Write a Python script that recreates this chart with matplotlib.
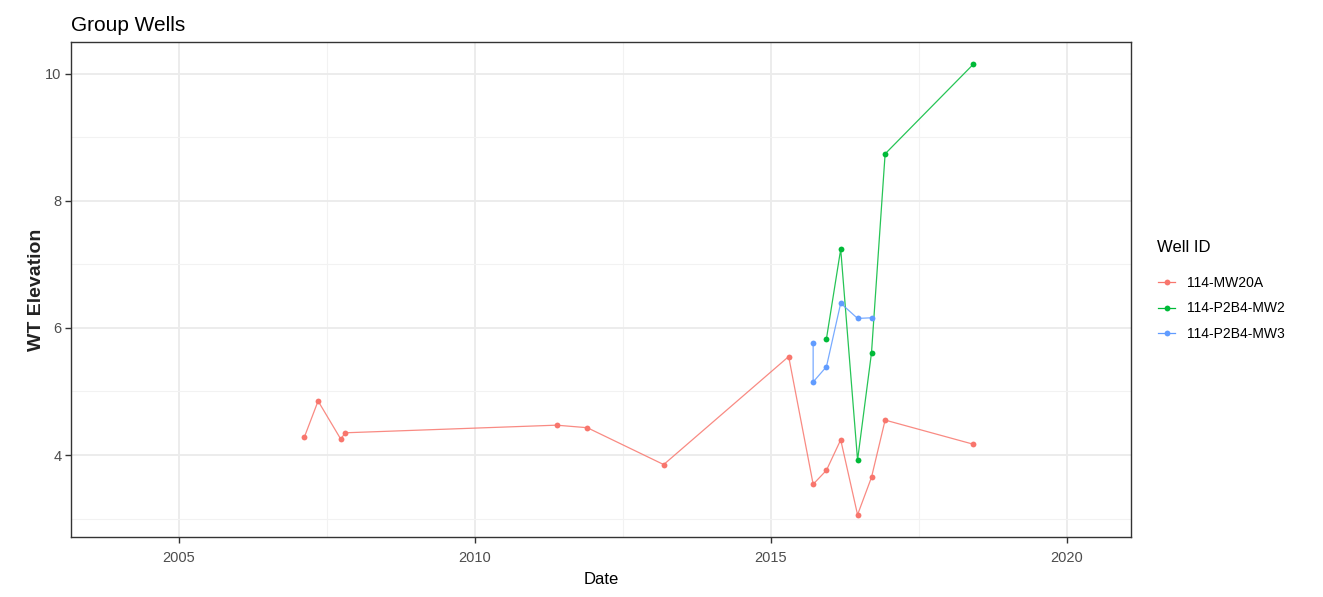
import numpy as np
import pandas as pd
import matplotlib
matplotlib.use("Agg")
import matplotlib.pyplot as plt
import matplotlib.dates as mdates
from matplotlib.lines import Line2D

plt.rcParams['font.family'] = ['Liberation Sans', 'DejaVu Sans']

# data
mw20a_dates = ["2007-02-13", "2007-05-09", "2007-09-26", "2007-10-23", "2011-05-19",
               "2011-11-25", "2013-03-10", "2015-04-20", "2015-09-18", "2015-12-09",
               "2016-03-06", "2016-06-18", "2016-09-12", "2016-12-05", "2018-06-02"]
mw20a_wt = [4.28, 4.85, 4.25, 4.35, 4.47, 4.43, 3.85, 5.55, 3.54, 3.76,
            4.24, 3.06, 3.65, 4.55, 4.17]

mw2_dates = ["2015-12-09", "2016-03-06", "2016-06-18", "2016-09-12", "2016-12-05", "2018-06-02"]
mw2_wt = [5.83, 7.24, 3.92, 5.61, 8.74, 10.15]

mw3_dates = ["2015-09-18", "2015-09-18", "2015-12-09", "2016-03-06", "2016-06-18", "2016-09-12"]
mw3_wt = [5.77, 5.15, 5.39, 6.39, 6.15, 6.16]

wells = ["114-MW20A", "114-P2B4-MW2", "114-P2B4-MW3"]
colors = ["#F8766D", "#00BA38", "#619CFF"]
series = [(mw20a_dates, mw20a_wt), (mw2_dates, mw2_wt), (mw3_dates, mw3_wt)]

fig = plt.figure(figsize=(13.23, 5.97), dpi=100)
ax = fig.add_axes([0.0537, 0.1005, 0.8012, 0.8291])

for (d, v), c in zip(series, colors):
    ax.plot(pd.to_datetime(d), v, color=c, lw=0.9, alpha=0.85, zorder=3)
    ax.plot(pd.to_datetime(d), v, 'o', color=c, ms=4.2, mec='none', zorder=4)

# axes limits / ticks
ax.set_xlim(pd.Timestamp("2003-03-07"), pd.Timestamp("2021-01-30"))
ax.set_ylim(2.71, 10.5)

majors = pd.to_datetime(["2000-01-01", "2005-01-01", "2010-01-01", "2015-01-01", "2020-01-01", "2025-01-01"])
ax.xaxis.set_major_locator(mdates.YearLocator(5))
ax.xaxis.set_major_formatter(mdates.DateFormatter("%Y"))
mids = majors[:-1] + (majors[1:] - majors[:-1]) / 2
ax.xaxis.set_minor_locator(matplotlib.ticker.FixedLocator(mdates.date2num(mids)))
ax.set_yticks([4, 6, 8, 10])
ax.set_yticks([3, 5, 7, 9], minor=True)

ax.grid(which='major', color='#EBEBEB', lw=1.3)
ax.grid(which='minor', color='#F2F2F2', lw=0.8)
ax.set_axisbelow(True)
ax.tick_params(which='major', length=4, width=1, color='#333333', labelcolor='#4D4D4D', labelsize=10.5)
ax.tick_params(axis='x', pad=6)
ax.tick_params(axis='y', pad=3)
ax.tick_params(which='minor', length=0)
for s in ax.spines.values():
    s.set_color('#333333')
    s.set_linewidth(1)

ax.set_xlabel("Date", fontsize=12, labelpad=5)
ax.set_ylabel("WT Elevation", fontsize=14, fontweight='bold', color='#222222')
ax.yaxis.set_label_coords(-0.025, 0.5)
ax.set_title("Group Wells", fontsize=15, loc='left', pad=8)

# legend
fig.text(1157 / 1323, 1 - 248 / 597, "Well ID", fontsize=12, va='center', ha='left')
handles = [Line2D([0], [0], color=c, lw=0.9, marker='o', ms=4.2, mec='none') for c in colors]
leg = fig.legend(handles, wells, loc='upper left', bbox_to_anchor=(1158 / 1323, 1 - 276 / 597),
                 frameon=False, fontsize=10, handlelength=1.25, handletextpad=0.85,
                 labelspacing=0.82, borderaxespad=0, borderpad=0)

fig.savefig("out.png", dpi=100)
